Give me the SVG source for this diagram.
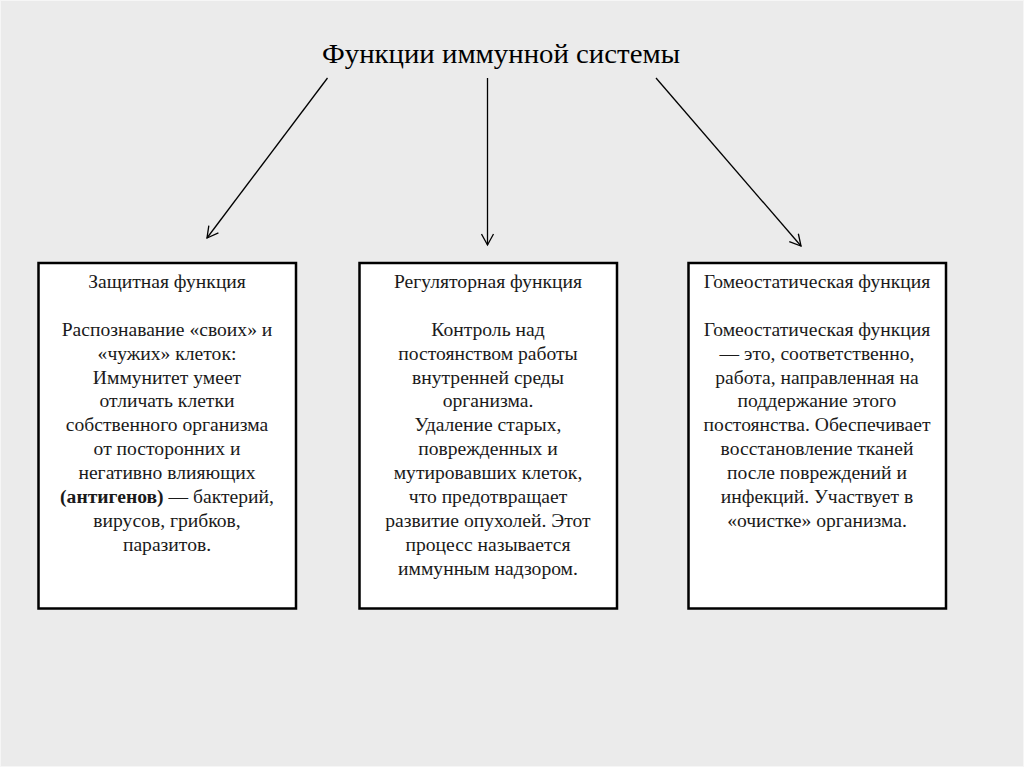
<svg xmlns="http://www.w3.org/2000/svg" width="1024" height="767" viewBox="0 0 1024 767">
<defs>
<marker id="arr" markerWidth="14" markerHeight="14" refX="12" refY="7" orient="auto" markerUnits="userSpaceOnUse">
<path d="M1,1 L12,7 L1,13" fill="none" stroke="#000" stroke-width="1.3"/>
</marker>
</defs>
<style>
.bg{fill:#ebebeb}
.box{fill:#fff;stroke:#000;stroke-width:2.5}
.t{font-family:"Liberation Serif","Times New Roman",serif;font-size:19.6px;fill:#1a1a1a;text-anchor:middle}
.title{font-family:"Liberation Serif","Times New Roman",serif;font-size:27px;fill:#000;text-anchor:middle}
.c{stroke:#000;stroke-width:1.3;fill:none;marker-end:url(#arr)}
</style>
<rect class="bg" x="0" y="0" width="1024" height="767"/>
<rect x="0.5" y="0.5" width="1023" height="766" fill="none" stroke="#f6f6f6" stroke-width="1"/>
<g id="title"><text class="title" x="501" y="63" textLength="358" lengthAdjust="spacingAndGlyphs">Функции иммунной системы</text></g>
<g id="connectors">
<line class="c" x1="327.5" y1="78" x2="207" y2="238"/>
<line class="c" x1="487.5" y1="78" x2="487.5" y2="245"/>
<line class="c" x1="656" y1="78" x2="801" y2="246"/>
</g>
<g id="node-protective">
<rect class="box" x="38.5" y="263" width="257.5" height="345.5"/>
<text class="t" x="167" y="288">Защитная функция</text>
<text class="t" x="167" y="336">Распознавание «своих» и</text>
<text class="t" x="167" y="360">«чужих» клеток:</text>
<text class="t" x="167" y="384">Иммунитет умеет</text>
<text class="t" x="167" y="407">отличать клетки</text>
<text class="t" x="167" y="431">собственного организма</text>
<text class="t" x="167" y="455">от посторонних и</text>
<text class="t" x="167" y="479">негативно влияющих</text>
<text class="t" x="167" y="503"><tspan font-weight="bold">(антигенов)</tspan> — бактерий,</text>
<text class="t" x="167" y="527">вирусов, грибков,</text>
<text class="t" x="167" y="551">паразитов.</text>
</g>
<g id="node-regulatory">
<rect class="box" x="359.5" y="263" width="257.5" height="345.5"/>
<text class="t" x="488" y="288">Регуляторная функция</text>
<text class="t" x="488" y="336">Контроль над</text>
<text class="t" x="488" y="360">постоянством работы</text>
<text class="t" x="488" y="384">внутренней среды</text>
<text class="t" x="488" y="407">организма.</text>
<text class="t" x="488" y="431">Удаление старых,</text>
<text class="t" x="488" y="455">поврежденных и</text>
<text class="t" x="488" y="479">мутировавших клеток,</text>
<text class="t" x="488" y="503">что предотвращает</text>
<text class="t" x="488" y="527">развитие опухолей. Этот</text>
<text class="t" x="488" y="551">процесс называется</text>
<text class="t" x="488" y="575">иммунным надзором.</text>
</g>
<g id="node-homeostatic">
<rect class="box" x="688.5" y="263" width="257.5" height="345.5"/>
<text class="t" x="817" y="288">Гомеостатическая функция</text>
<text class="t" x="817" y="336">Гомеостатическая функция</text>
<text class="t" x="817" y="360">— это, соответственно,</text>
<text class="t" x="817" y="384">работа, направленная на</text>
<text class="t" x="817" y="407">поддержание этого</text>
<text class="t" x="817" y="431">постоянства. Обеспечивает</text>
<text class="t" x="817" y="455">восстановление тканей</text>
<text class="t" x="817" y="479">после повреждений и</text>
<text class="t" x="817" y="503">инфекций. Участвует в</text>
<text class="t" x="817" y="527">«очистке» организма.</text>
</g>
</svg>
